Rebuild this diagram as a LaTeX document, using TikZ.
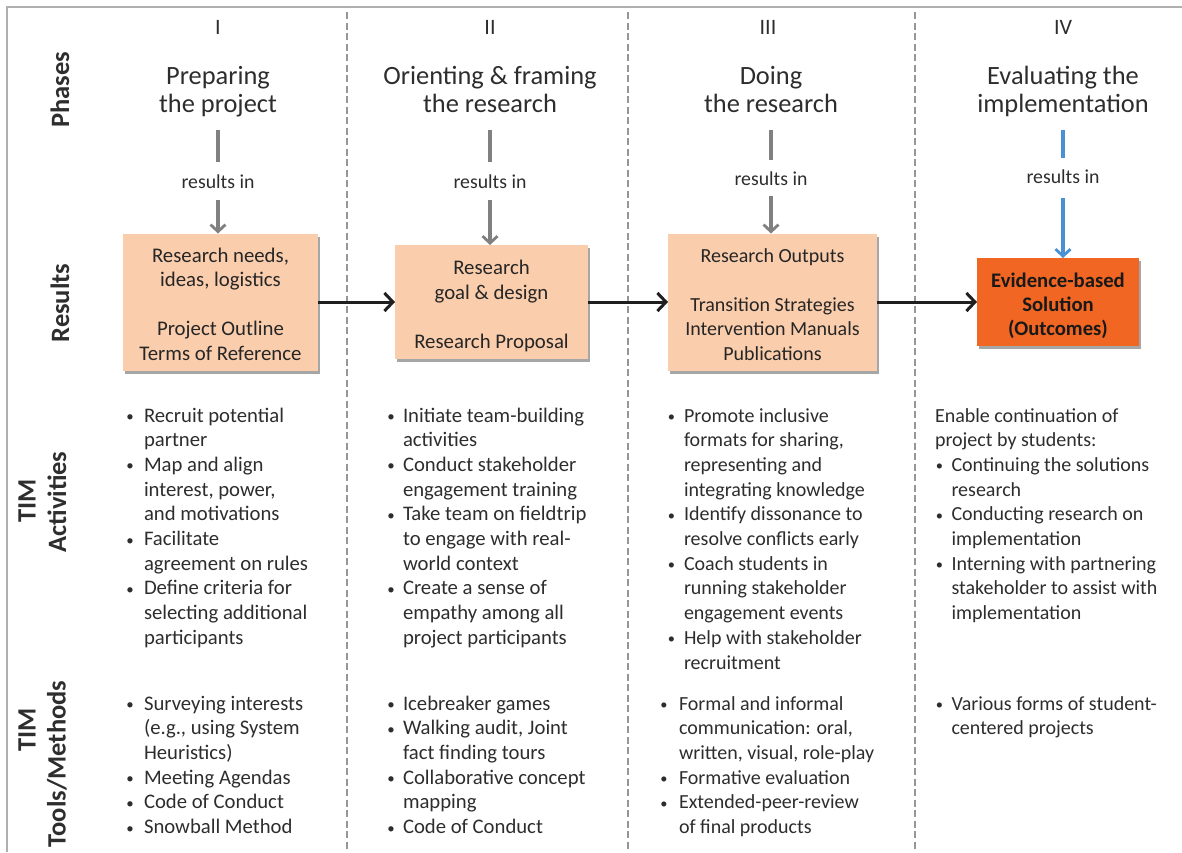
\documentclass[tikz,border=0pt]{standalone}
\usepackage{fontspec}
\usepackage{graphicx}
\setmainfont{Carlito}
\usetikzlibrary{arrows.meta,shadows}

\definecolor{peach}{RGB}{250,205,172}
\definecolor{solorange}{RGB}{241,102,35}
\definecolor{txt}{RGB}{45,45,45}
\definecolor{flowgray}{RGB}{128,128,128}
\definecolor{flowblue}{RGB}{74,144,212}
\definecolor{sepgray}{RGB}{150,150,150}
\definecolor{framegray}{RGB}{175,175,175}

% bullet hanging to the left of the item text; optional gap in pt
\newcommand\blt[1][13]{\llap{\makebox[0pt]{\raisebox{0.5pt}{\scalebox{0.72}{\textbullet}}}\hspace{#1pt}}}
% box contents, lowered a little inside their box
\newcommand\boxlines[1]{\raisebox{-4.5pt}[\height][\depth]{\begin{tabular}{@{}c@{}}#1\end{tabular}}}

\begin{document}
\begin{tikzpicture}[x=1pt,y=-1pt,
  every node/.style={text=txt, inner sep=0pt, outer sep=0pt},
  rowlabel/.style={font=\fontsize{26.5}{30}\selectfont\bfseries, rotate=90, text=black!82},
  numeral/.style={font=\fontsize{22}{26}\selectfont},
  phase/.style={font=\fontsize{26.4}{28.5}\selectfont},
  resin/.style={font=\fontsize{19.8}{23}\selectfont, text height=12pt, text depth=4pt, anchor=base},
  box/.style={fill=peach, draw=none, text=black!85,
    font=\fontsize{20.8}{24.5}\selectfont,
    drop shadow={shadow xshift=2pt, shadow yshift=-3pt, opacity=0.35, fill=black}},
  solbox/.style={box, fill=solorange, text=black!90, font=\fontsize{20.7}{24}\selectfont\bfseries},
  list/.style={font=\fontsize{20}{24.7}\selectfont, anchor=base west},
  listwide/.style={list, font=\fontsize{20.7}{24.7}\selectfont},
  sep/.style={draw=sepgray, line width=2pt, dash pattern=on 7pt off 3.5pt},
  seg/.style={draw=flowgray, line width=3.5pt, shorten <=8pt, shorten >=14pt},
  flow/.style={draw=flowgray, line width=3.5pt, shorten <=8pt,
    -{Straight Barb[length=7pt,width=15pt,line width=2.8pt]}},
  conn/.style={draw=black!88, line width=3pt,
    -{Straight Barb[length=8.5pt,width=18pt,line width=3pt]}}
]
\useasboundingbox (0,0) rectangle (1182,852);

% outer frame (top and left edges)
\draw[framegray, line width=1.5pt] (7,852) -- (7,7) -- (1182,7);

% column separators
\foreach \x in {347,628,915} \draw[sep] (\x,12) -- (\x,852);

% row labels
\node[rowlabel] (lblP) at (60,90) {Phases};
\node[rowlabel] (lblR) at (60,303) {Results};
\node[rowlabel] (lblA1) at (27,501) {TIM};
\node[rowlabel] (lblA2) at (57,502) {Activities};
\node[rowlabel] (lblT1) at (27,730) {TIM};
\node[rowlabel] (lblT2) at (57,764) {Tools/Methods};

% phase numerals
\node[numeral] (n1) at (218,27) {I};
\node[numeral] (n2) at (490,27) {II};
\node[numeral] (n3) at (768,27) {III};
\node[numeral] (n4) at (1063,27) {IV};

% phase titles
\node[phase] (t1) at (218,93) {\begin{tabular}{@{}c@{}}Preparing\\the project\end{tabular}};
\node[phase] (t2) at (490,93) {\begin{tabular}{@{}c@{}}Orienting \& framing\\the research\end{tabular}};
\node[phase] (t3) at (771,93) {\begin{tabular}{@{}c@{}}Doing\\the research\end{tabular}};
\node[phase] (t4) at (1063,93) {\begin{tabular}{@{}c@{}}Evaluating the\\implementation\end{tabular}};

% "results in" labels
\node[resin] (r1) at (218,188) {results in};
\node[resin] (r2) at (490,188) {results in};
\node[resin] (r3) at (771,185) {results in};
\node[resin] (r4) at (1063,183) {results in};

% result boxes
\node[box, minimum width=195pt, minimum height=137pt] (b1) at (220.5,302)
  {\boxlines{Research needs,\\ideas, logistics\\ \\Project Outline\\Terms of Reference}};
\node[box, minimum width=193pt, minimum height=114pt] (b2) at (491.5,302)
  {\boxlines{Research\\goal \& design\\ \\Research Proposal}};
\node[box, minimum width=209pt, minimum height=137pt, font=\fontsize{20}{24.5}\selectfont] (b3) at (772.5,302)
  {\boxlines{Research Outputs\\ \\Transition Strategies\\Intervention Manuals\\Publications}};
\node[solbox, minimum width=162pt, minimum height=88pt] (b4) at (1058,302)
  {\boxlines{Evidence-based\\Solution\\(Outcomes)}};

% phase -> result flow
\draw[seg] (t1) -- (r1);
\draw[seg] (t2) -- (r2);
\draw[seg, shorten >=13pt] (t3) -- (r3);
\draw[seg, draw=flowblue, shorten >=13pt] (t4) -- (r4);
\draw[flow] (r1) -- (r1 |- b1.north);
\draw[flow] (r2) -- (r2 |- b2.north);
\draw[flow, shorten <=7pt] (r3) -- (r3 |- b3.north);
\draw[flow, draw=flowblue, shorten <=11pt] (r4) -- (r4 |- b4.north);

% results chain
\draw[conn] (b1) -- (b2);
\draw[conn] (b2) -- (b3);
\draw[conn] (b3) -- (b4);

% TIM activities
\node[listwide] (a1) at (144,422) {\begin{tabular}[t]{@{}l@{}}
\blt[14]Recruit potential\\
partner\\
\blt[14]Map and align\\
interest, power,\\
and motivations\\
\blt[14]Facilitate\\
agreement on rules\\
\blt[14]Define criteria for\\
selecting additional\\
participants\end{tabular}};

\node[listwide] (a2) at (403,422) {\begin{tabular}[t]{@{}l@{}}
\blt[12]Initiate team-building\\
activities\\
\blt[12]Conduct stakeholder\\
engagement training\\
\blt[12]Take team on fieldtrip\\
to engage with real-\\
world context\\
\blt[12]Create a sense of\\
empathy among all\\
project participants\end{tabular}};

\node[list] (a3) at (684,422) {\begin{tabular}[t]{@{}l@{}}
\blt[12.5]Promote inclusive\\
formats for sharing,\\
representing and\\
integrating knowledge\\
\blt[12.5]Identify dissonance to\\
resolve conflicts early\\
\blt[12.5]Coach students in\\
running stakeholder\\
engagement events\\
\blt[12.5]Help with stakeholder\\
recruitment\end{tabular}};

\node[list] (a4) at (935,422) {\begin{tabular}[t]{@{}l@{}}
Enable continuation of\\
project by students:\\
\hspace*{16.5pt}\blt[12]Continuing the solutions\\
\hspace*{16.5pt}research\\
\hspace*{16.5pt}\blt[12]Conducting research on\\
\hspace*{16.5pt}implementation\\
\hspace*{16.5pt}\blt[12]Interning with partnering\\
\hspace*{16.5pt}stakeholder to assist with\\
\hspace*{16.5pt}implementation\end{tabular}};

% TIM tools / methods
\node[listwide] (m1) at (144,710) {\begin{tabular}[t]{@{}l@{}}
\blt[14]Surveying interests\\
(e.g., using System\\
Heuristics)\\
\blt[14]Meeting Agendas\\
\blt[14]Code of Conduct\\
\blt[14]Snowball Method\end{tabular}};

\node[listwide] (m2) at (403,710) {\begin{tabular}[t]{@{}l@{}}
\blt[12]Icebreaker games\\
\blt[12]Walking audit, Joint\\
fact finding tours\\
\blt[12]Collaborative concept\\
mapping\\
\blt[12]Code of Conduct\end{tabular}};

\node[list] (m3) at (679,710) {\begin{tabular}[t]{@{}l@{}}
\blt[15]Formal and informal\\
communication: oral,\\
written, visual, role-play\\
\blt[15]Formative evaluation\\
\blt[15]Extended-peer-review\\
of final products\end{tabular}};

\node[list] (m4) at (951.5,710) {\begin{tabular}[t]{@{}l@{}}
\blt[12]Various forms of student-\\
centered projects\end{tabular}};

\end{tikzpicture}
\end{document}
